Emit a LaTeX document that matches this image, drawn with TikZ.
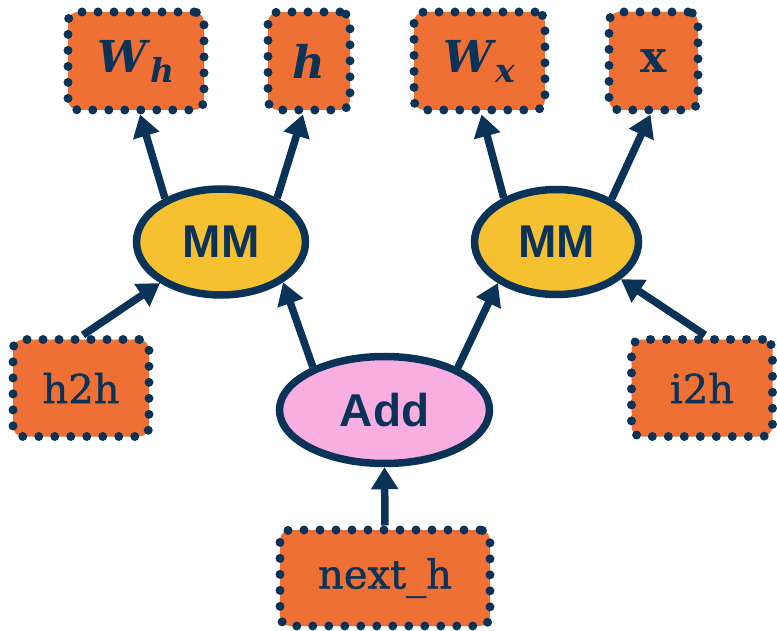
\documentclass[tikz,border=0pt]{standalone}
\usepackage{fontspec}
\usetikzlibrary{shapes.geometric,arrows.meta,calc}
\setmainfont{DejaVu Serif}
\newfontfamily\labsans{Liberation Sans}
\newfontface\labserif{DejaVu Serif}[FakeBold=1.2]
\newfontface\labmath{DejaVu Serif Bold Italic}
\newfontface\labmathup{DejaVu Serif Bold}
\definecolor{navy}{HTML}{0B3358}
\definecolor{boxorange}{HTML}{EF7035}
\definecolor{opyellow}{HTML}{F6C131}
\definecolor{oppink}{HTML}{F9AEE2}
\begin{document}
\begin{tikzpicture}[x=1pt,y=-1pt,
  tensor/.style={draw=navy, fill=boxorange, line width=9pt, dash pattern=on 0pt off 16pt, line cap=round, rounded corners=10pt, minimum height=98pt, inner sep=0pt, text=navy, font=\labserif\fontsize{40}{46}\selectfont},
  op/.style={ellipse, draw=navy, line width=7.5pt, inner sep=0pt, text=navy, font=\labsans\bfseries\fontsize{46}{52}\selectfont},
  link/.style={draw=navy, line width=7.5pt, -{Triangle[length=22pt,width=26pt]}}]
\useasboundingbox (0,0) rectangle (777,631);
% tensors
\node[tensor, minimum width=136pt] (wh) at (136,61) {\labmath\fontsize{44}{50}\selectfont W\kern3pt\raisebox{-10pt}{\fontsize{33}{36}\selectfont h}};
\node[tensor, minimum width=82pt] (h) at (309,61) {\labmath\fontsize{45}{50}\selectfont h};
\node[tensor, minimum width=131pt] (wx) at (479.5,61) {\labmath\fontsize{44}{50}\selectfont W\kern3pt\raisebox{-10pt}{\fontsize{33}{36}\selectfont x}};
\node[tensor, minimum width=89pt] (x) at (653.5,61) {\labmathup\fontsize{44}{50}\selectfont x};
\node[tensor, minimum width=136pt, minimum height=97pt] (h2h) at (81,388) {h2h};
\node[tensor, minimum width=141pt, minimum height=97pt] (i2h) at (702,388) {i2h};
\node[tensor, minimum width=210pt, minimum height=96pt] (nexth) at (385,578) {next\_h};
% ops
\node[op, fill=opyellow, minimum width=169pt, minimum height=106pt] (mm1) at (221,242) {MM};
\node[op, fill=opyellow, minimum width=164pt, minimum height=105pt] (mm2) at (556.5,242) {MM};
\node[op, fill=oppink, minimum width=210pt, minimum height=107pt] (add) at (384.5,410) {Add};
% links
\draw[link] (mm1.142) -- ($(wh.south)+(4,0)$);
\draw[link] (mm1.38) -- ($(h.south)+(-6,0)$);
\draw[link] (mm2.140) -- ($(wx.south)+(2,0)$);
\draw[link] (mm2.38) -- ($(x.south)+(-3,0)$);
\draw[link] ($(h2h.north)+(2,0)$) -- (mm1.214);
\draw[link] ($(i2h.north)+(3,0)$) -- (mm2.330);
\draw[link] (add.149) -- (mm1.327);
\draw[link] (add.30) -- (mm2.215);
\draw[link] (nexth.north) -- (add.south);
\end{tikzpicture}
\end{document}
